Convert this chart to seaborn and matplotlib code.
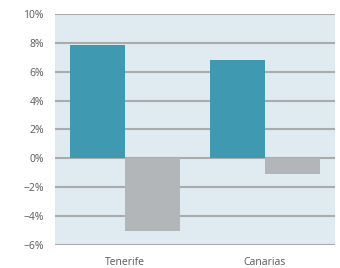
import matplotlib
matplotlib.use("Agg")
import matplotlib.pyplot as plt
import seaborn as sns
import pandas as pd
from matplotlib.ticker import PercentFormatter

# Values (percent)
regions = ["Tenerife", "Canarias"]
series = ["A", "B"]
values_a = [7.85, 6.8]
values_b = [-5.05, -1.1]

df = pd.DataFrame({
    "region": regions * 2,
    "series": [series[0]] * 2 + [series[1]] * 2,
    "value": values_a + values_b,
})

sns.set_style("white")
plt.rcParams["font.family"] = ["Open Sans", "DejaVu Sans"]

fig = plt.figure(figsize=(3.4, 2.68), dpi=100)
ax = fig.add_axes([0.162, 0.086, 0.823, 0.862])
ax.set_facecolor("#e0eaf1")

sns.barplot(
    data=df, x="region", y="value", hue="series",
    palette=["#3f99b1", "#b3b6b9"], width=0.79,
    saturation=1, legend=False, ax=ax, zorder=3,
    linewidth=0,
)

ax.set_ylim(-6, 10)
ax.set_yticks(range(-6, 11, 2))
ax.yaxis.set_major_formatter(PercentFormatter(decimals=0))
ax.grid(axis="y", color="#a9abad", linewidth=1.5, zorder=1)
ax.set_axisbelow(True)
for s in ax.spines.values():
    s.set_visible(False)
ax.tick_params(axis="y", length=0, labelsize=7.5, colors="#595959", pad=8)
ax.tick_params(axis="x", length=0, labelsize=7.5, colors="#595959", pad=9)
ax.set_xlabel("")
ax.set_ylabel("")

fig.savefig("out.png", dpi=100)
